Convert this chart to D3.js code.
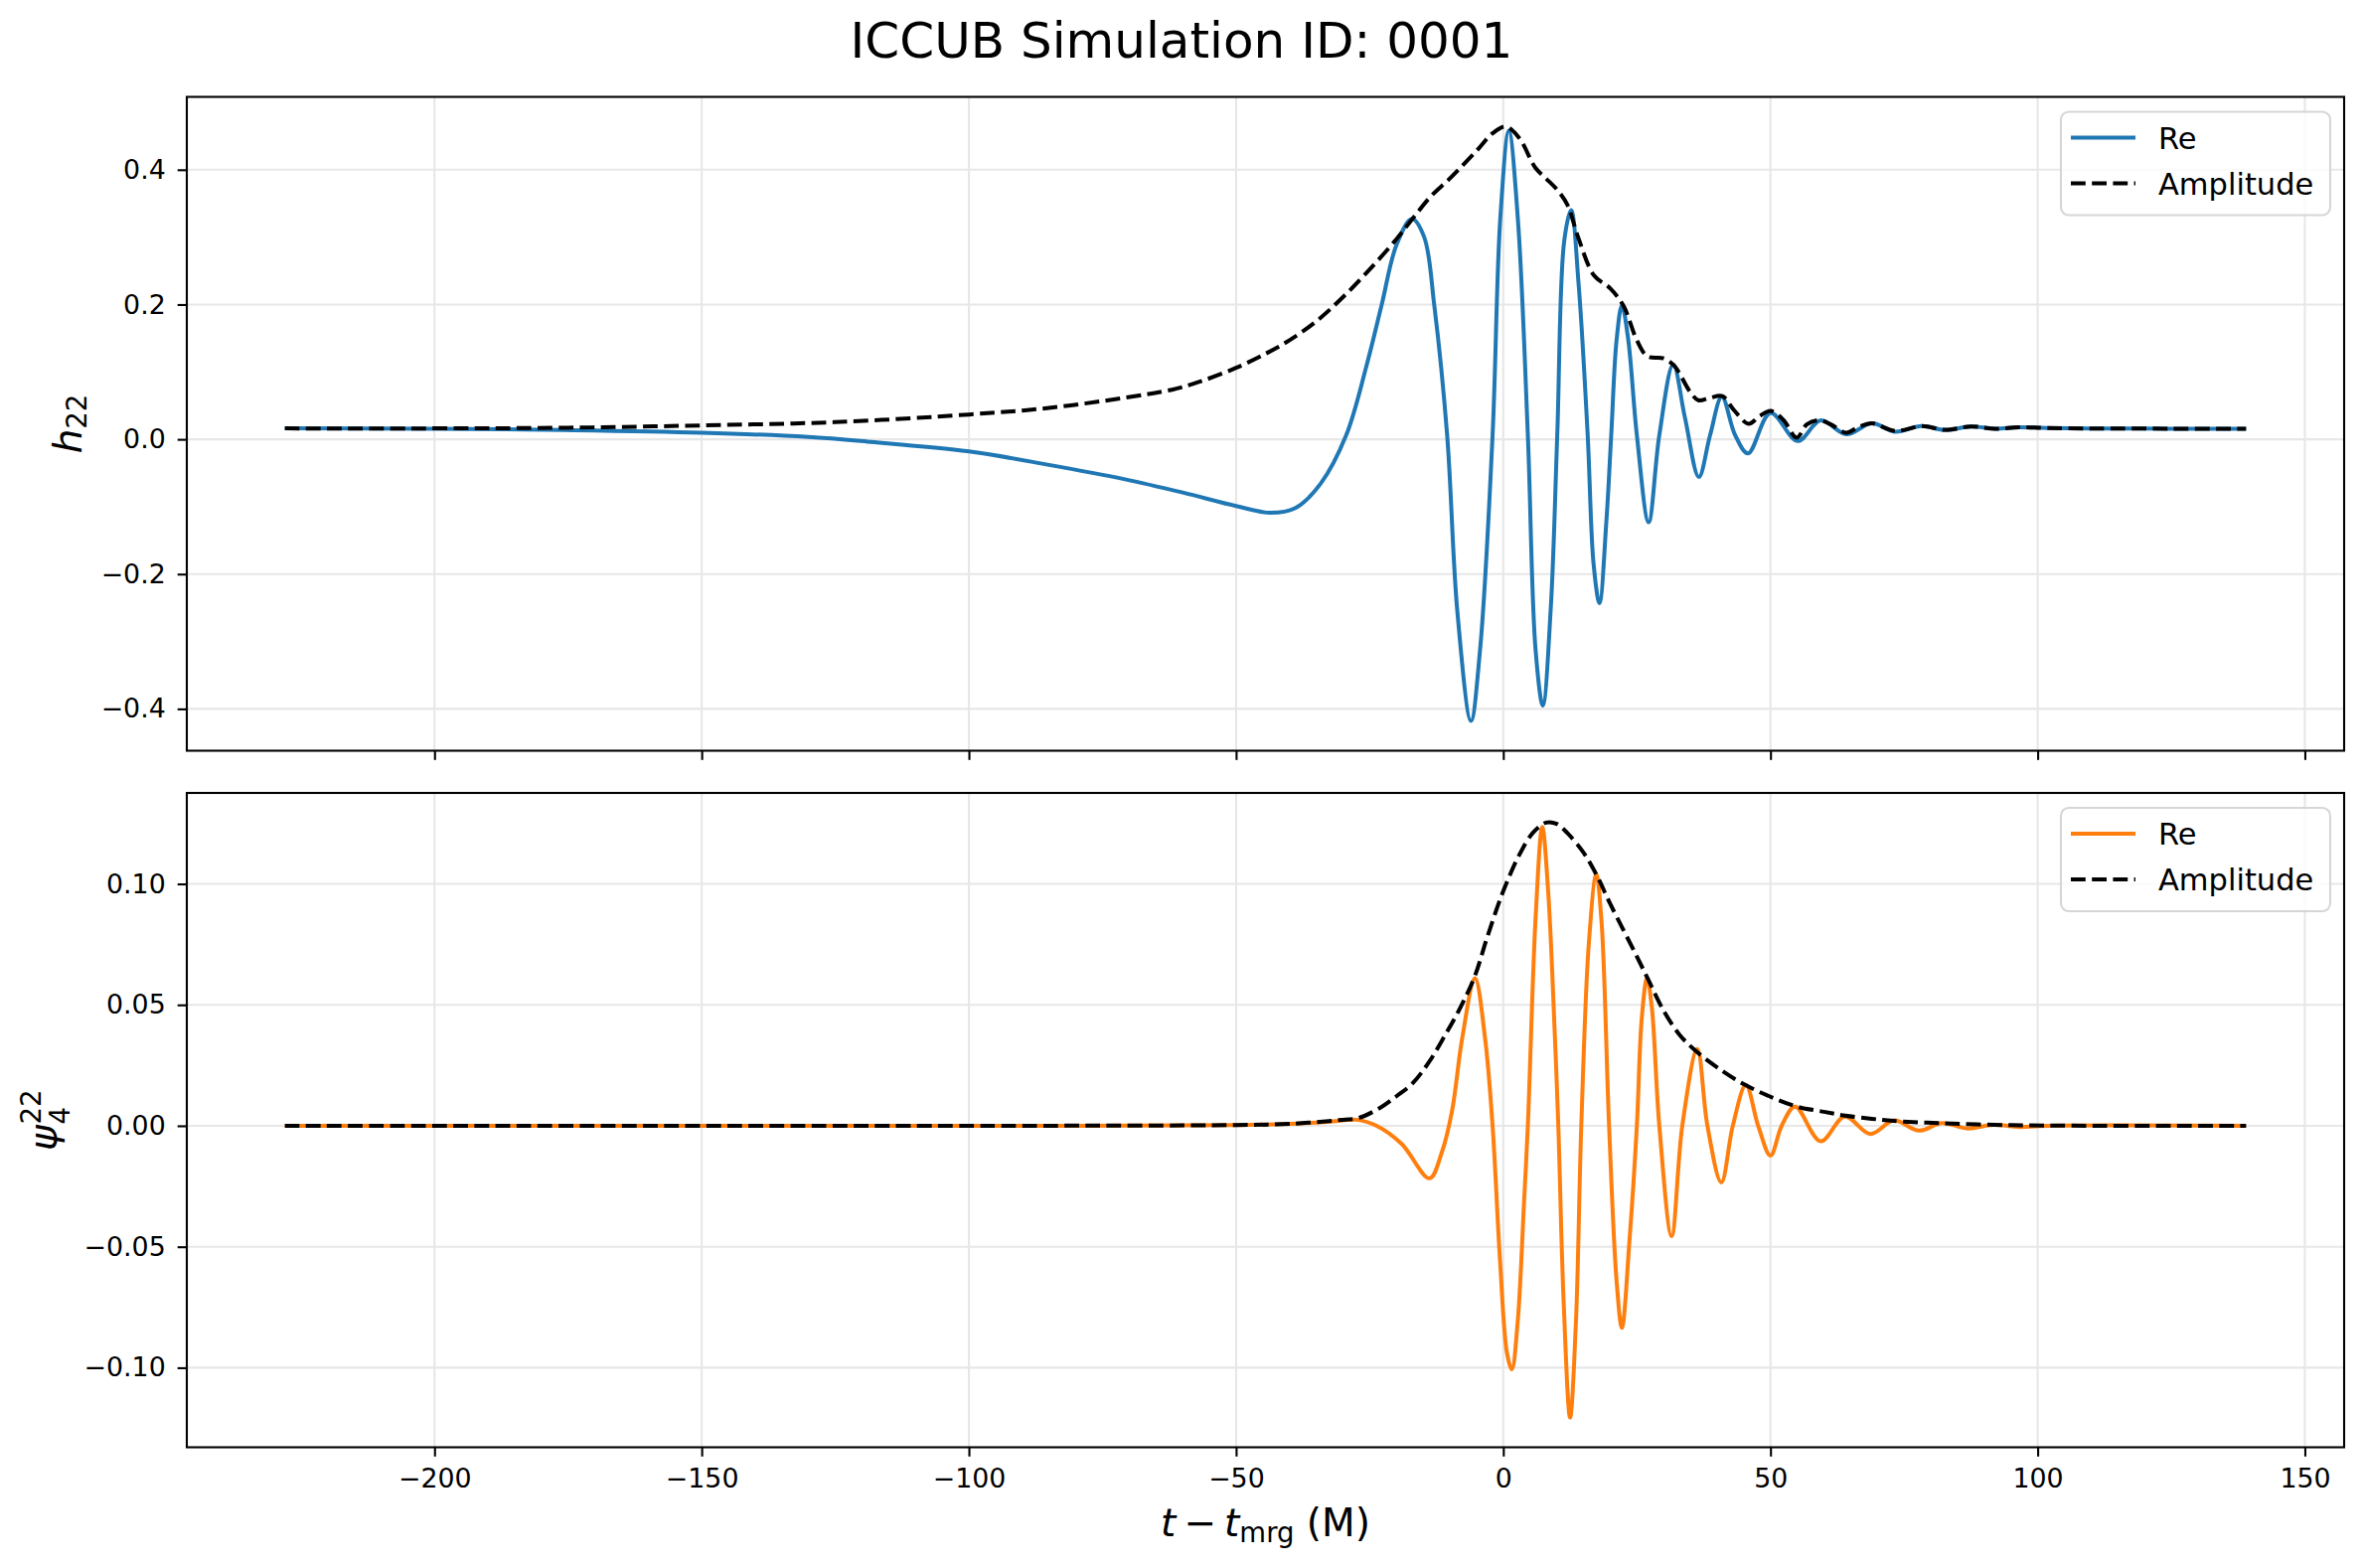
<!DOCTYPE html>
<html>
<head>
<meta charset="utf-8">
<script src="https://cdn.jsdelivr.net/npm/d3@7"></script>
<style>
  body { margin: 0; background: #fff; }
  text { font-family: "DejaVu Sans", sans-serif; }
</style>
</head>
<body>
<div id="chart"></div>
<script>
// values: [t - t_mrg, value]
const h22Re = [
  [-228, 0.0162], [-200, 0.0157], [-176, 0.0137], [-150, 0.0098], [-130, 0.0034],
  [-119, -0.0034], [-100, -0.018], [-85, -0.038], [-71, -0.059], [-60, -0.079],
  [-50, -0.099], [-43.6, -0.109], [-38.9, -0.102], [-34.2, -0.066],
  [-29.4, 0.006], [-25.6, 0.109], [-22.8, 0.198], [-20, 0.288], [-17.1, 0.327],
  [-14.8, 0.30], [-12.9, 0.198], [-10.5, 0.006], [-8.6, -0.255], [-6.05, -0.418],
  [-4.35, -0.313], [-2, 0.006], [-0.57, 0.326], [1.04, 0.458], [2.74, 0.326],
  [4.6, 0.006], [6.05, -0.313], [7.4, -0.395], [8.9, -0.249], [10.1, 0.006],
  [11.4, 0.294], [12.7, 0.34], [14.1, 0.23], [15.8, 0.006], [16.9, -0.185],
  [18.0, -0.243], [19.3, -0.121], [20.2, 0.006], [21.2, 0.147], [22.2, 0.199],
  [23.4, 0.147], [25, 0.006], [27.2, -0.123], [29.2, 0.006], [31.8, 0.111],
  [34, 0.032], [36.6, -0.056], [38.7, 0.006], [40.9, 0.063], [43.4, 0.006],
  [45.8, -0.021], [50, 0.039], [55.1, -0.0025], [59.4, 0.028], [64.2, 0.0074],
  [69, 0.0236], [73.3, 0.0113], [78.3, 0.0196], [82.7, 0.0137], [87.5, 0.019],
  [92, 0.0157], [96.5, 0.018], [101.6, 0.0167], [110, 0.016], [125, 0.0158],
  [139, 0.0157]
];

const h22Amp = [
  [-228, 0.0162], [-200, 0.0162], [-175, 0.0172], [-150, 0.0206], [-125, 0.0255],
  [-100, 0.0368], [-85, 0.0466], [-71, 0.0614], [-62, 0.0736], [-57, 0.085],
  [-50, 0.106], [-44, 0.129], [-40, 0.147], [-35, 0.175], [-30, 0.211],
  [-25, 0.252], [-20, 0.297], [-17, 0.327], [-13.5, 0.361], [-10, 0.387],
  [-5, 0.428], [-2, 0.454], [0.5, 0.464], [3, 0.447], [6, 0.403], [8, 0.387],
  [10, 0.371], [12, 0.348], [14, 0.30], [17, 0.243], [20, 0.224], [22.5, 0.198],
  [25, 0.147], [27, 0.123], [30, 0.12], [32, 0.109], [35, 0.070], [36.5, 0.058],
  [38.5, 0.061], [41, 0.064], [43, 0.045], [45.9, 0.023], [47.9, 0.034],
  [50, 0.042], [52.4, 0.029], [54.9, 0.0025], [56.8, 0.022], [59.1, 0.0285],
  [61.3, 0.022], [64.2, 0.0098], [66.4, 0.018], [69, 0.0236], [73.3, 0.0123],
  [78.3, 0.0196], [82.7, 0.014], [87.5, 0.019], [92, 0.0157], [96.5, 0.018],
  [101.6, 0.0167], [110, 0.016], [125, 0.0158], [139, 0.0157]
];

const psi4Re = [
  [-228, 0], [-150, 0], [-80, 0], [-50, 0.0003], [-40, 0.0008], [-32, 0.0018],
  [-27.5, 0.0025], [-23.7, 0], [-19, -0.0075], [-13.8, -0.0217], [-11.5, -0.011],
  [-9.6, 0.006], [-7.7, 0.036], [-5.3, 0.061], [-3.4, 0.036], [-2, 0],
  [-0.6, -0.056], [0.7, -0.094], [1.6, -0.1007], [2.7, -0.081], [3.9, -0.031],
  [4.6, 0], [6.05, 0.086], [7.3, 0.1235], [8.4, 0.097], [9.6, 0.04], [10.3, 0],
  [11.3, -0.073], [12.5, -0.1206], [13.6, -0.081], [14.6, 0], [16, 0.075],
  [17.4, 0.104], [18.4, 0.084], [19.8, 0], [21.2, -0.064], [22.2, -0.0835],
  [23.6, -0.048], [25, 0], [25.9, 0.044], [26.9, 0.061], [27.8, 0.049],
  [29.2, 0], [31.5, -0.0456], [33.5, 0], [36.3, 0.0317], [38.2, 0],
  [40.8, -0.0234], [42.95, 0], [45.4, 0.0168], [47.7, 0], [50, -0.0123],
  [52.1, 0], [54.6, 0.0079], [59.4, -0.0064], [63.9, 0.0038], [68.7, -0.0034],
  [73.1, 0.0022], [77.8, -0.002], [82.1, 0.0011], [86.9, -0.0011], [91.7, 0.0004],
  [96.5, -0.0005], [101.6, 0], [139, 0]
];

const psi4Amp = [
  [-228, 0], [-100, 0], [-70, 0.0001], [-50, 0.0003], [-40, 0.0008], [-30, 0.0025],
  [-27, 0.0033], [-23, 0.0075], [-20, 0.0122], [-17, 0.0175], [-14, 0.026],
  [-11, 0.037], [-8, 0.049], [-5.3, 0.062], [-3, 0.078], [0, 0.097], [3, 0.112],
  [5.5, 0.121], [8, 0.1253], [10, 0.1248], [12, 0.121], [15, 0.113], [17.5, 0.1035],
  [20, 0.0918], [25, 0.070], [27, 0.061], [30, 0.0476], [33, 0.0376], [36, 0.031],
  [40, 0.0242], [45, 0.0172], [50, 0.012], [55, 0.0079], [60, 0.0058], [64, 0.0042],
  [69, 0.0029], [73, 0.002], [82, 0.0011], [92, 0.0004], [102, 0.0001], [139, 0]
];

const xTicks = [-200, -150, -100, -50, 0, 50, 100, 150];
const hTicks = [-0.4, -0.2, 0.0, 0.2, 0.4];
const psiTicks = [-0.10, -0.05, 0.00, 0.05, 0.10];
const legendLabels = ["Re", "Amplitude"];

const width = 2379, height = 1578;
const axLeft = 188, axRight = 2359;
const lw = 2.1, tickLen = 9.3, tickFont = 26.8, labelFont = 39, subFont = 27.5;
const dash = "14.8,6.4";

const svg = d3.select("#chart").append("svg")
  .attr("width", width)
  .attr("height", height)
  .style("background", "#fff");

// matplotlib-like 5% margins
function padded(ext) {
  const d = ext[1] - ext[0];
  return [ext[0] - 0.05 * d, ext[1] + 0.05 * d];
}

const allT = [...h22Re, ...h22Amp, ...psi4Re, ...psi4Amp].map(d => d[0]);
const x = d3.scaleLinear().domain(padded(d3.extent(allT))).range([axLeft, axRight]);

const panels = [
  { top: 97.5, bottom: 755.5, re: h22Re, amp: h22Amp, color: "#1f77b4", ticks: hTicks, fmt: ".1f", showX: false },
  { top: 798, bottom: 1456.5, re: psi4Re, amp: psi4Amp, color: "#ff7f0e", ticks: psiTicks, fmt: ".2f", showX: true }
];

panels.forEach(p => {
  const vals = [...p.re, ...p.amp].map(d => d[1]);
  const y = d3.scaleLinear().domain(padded(d3.extent(vals))).range([p.bottom, p.top]);
  const g = svg.append("g");

  // grid
  g.selectAll(".gx").data(xTicks).enter().append("line")
    .attr("x1", d => x(d)).attr("x2", d => x(d))
    .attr("y1", p.top).attr("y2", p.bottom)
    .attr("stroke", "#e7e7e7").attr("stroke-width", lw);
  g.selectAll(".gy").data(p.ticks).enter().append("line")
    .attr("x1", axLeft).attr("x2", axRight)
    .attr("y1", d => y(d)).attr("y2", d => y(d))
    .attr("stroke", "#e7e7e7").attr("stroke-width", lw);

  const line = d3.line()
    .x(d => x(d[0]))
    .y(d => y(d[1]))
    .curve(d3.curveCatmullRom.alpha(0.5));

  g.append("path").datum(p.re)
    .attr("d", line)
    .attr("fill", "none")
    .attr("stroke", p.color)
    .attr("stroke-width", 4)
    .attr("stroke-linejoin", "round");

  g.append("path").datum(p.amp)
    .attr("d", line)
    .attr("fill", "none")
    .attr("stroke", "#000")
    .attr("stroke-width", 4)
    .attr("stroke-dasharray", dash);

  // axes
  const ax = g.append("g")
    .attr("transform", `translate(0,${p.bottom})`)
    .call(d3.axisBottom(x).tickValues(xTicks).tickSize(tickLen).tickPadding(12)
      .tickFormat(p.showX ? d3.format("d") : ""));
  const ay = g.append("g")
    .attr("transform", `translate(${axLeft},0)`)
    .call(d3.axisLeft(y).tickValues(p.ticks).tickSize(tickLen).tickPadding(12)
      .tickFormat(d3.format(p.fmt)));
  [ax, ay].forEach(a => {
    a.select(".domain").remove();
    a.selectAll(".tick line").attr("stroke", "#000").attr("stroke-width", lw);
    a.selectAll(".tick text")
      .attr("fill", "#000")
      .style("font-size", tickFont + "px")
      .style("font-family", "'DejaVu Sans', sans-serif");
  });

  // spines
  g.append("rect")
    .attr("x", axLeft).attr("y", p.top)
    .attr("width", axRight - axLeft).attr("height", p.bottom - p.top)
    .attr("fill", "none").attr("stroke", "#000").attr("stroke-width", lw);

  // legend
  const lgW = 271, lgH = 104;
  const lgX = axRight - 14 - lgW, lgY = p.top + 15;
  const lg = g.append("g").attr("transform", `translate(${lgX},${lgY})`);
  lg.append("rect")
    .attr("width", lgW).attr("height", lgH).attr("rx", 8)
    .attr("fill", "#fff").attr("fill-opacity", 0.8)
    .attr("stroke", "#d6d6d6").attr("stroke-width", lw);
  legendLabels.forEach((lab, i) => {
    const yy = 26 + i * 46;
    lg.append("line")
      .attr("x1", 10).attr("x2", 75).attr("y1", yy).attr("y2", yy)
      .attr("stroke", i === 0 ? p.color : "#000")
      .attr("stroke-width", 4)
      .attr("stroke-dasharray", i === 0 ? null : dash);
    lg.append("text")
      .attr("x", 98).attr("y", yy + 11)
      .attr("font-size", 30.5)
      .attr("fill", "#000")
      .text(lab);
  });
});

// title
svg.append("text")
  .attr("x", 1189).attr("y", 58)
  .attr("text-anchor", "middle")
  .attr("font-size", 50)
  .text("ICCUB Simulation ID: 0001");

// x label: t - t_mrg (M)
const xl = svg.append("text")
  .attr("x", (axLeft + axRight) / 2).attr("y", 1546)
  .attr("text-anchor", "middle")
  .attr("font-size", labelFont);
xl.append("tspan").attr("font-style", "italic").text("t");
xl.append("tspan").attr("dx", 8).text("\u2212");
xl.append("tspan").attr("dx", 8).attr("font-style", "italic").text("t");
xl.append("tspan").attr("font-size", subFont).attr("dy", 6).text("mrg");
xl.append("tspan").attr("dy", -6).text("\u00a0(M)");

// y label top: h_22
const yl1 = svg.append("text")
  .attr("transform", `translate(82,${(panels[0].top + panels[0].bottom) / 2}) rotate(-90)`)
  .attr("text-anchor", "middle")
  .attr("font-size", labelFont);
yl1.append("tspan").attr("font-style", "italic").text("h");
yl1.append("tspan").attr("font-size", subFont).attr("dy", 5).text("22");

// y label bottom: psi_4^22
const yl2 = svg.append("g")
  .attr("transform", `translate(57,${(panels[1].top + panels[1].bottom) / 2}) rotate(-90)`);
const inner = yl2.append("g");
const psi = inner.append("text")
  .attr("font-size", labelFont)
  .attr("font-style", "italic")
  .text("\u03c8");
const pw = psi.node().getComputedTextLength();
inner.append("text").attr("x", pw + 1).attr("y", 13).attr("font-size", subFont).text("4");
inner.append("text").attr("x", pw + 1).attr("y", -16).attr("font-size", subFont).text("22");
const bb = inner.node().getBBox();
inner.attr("transform", `translate(${-(bb.x + bb.width / 2)},0)`);
</script>
</body>
</html>
